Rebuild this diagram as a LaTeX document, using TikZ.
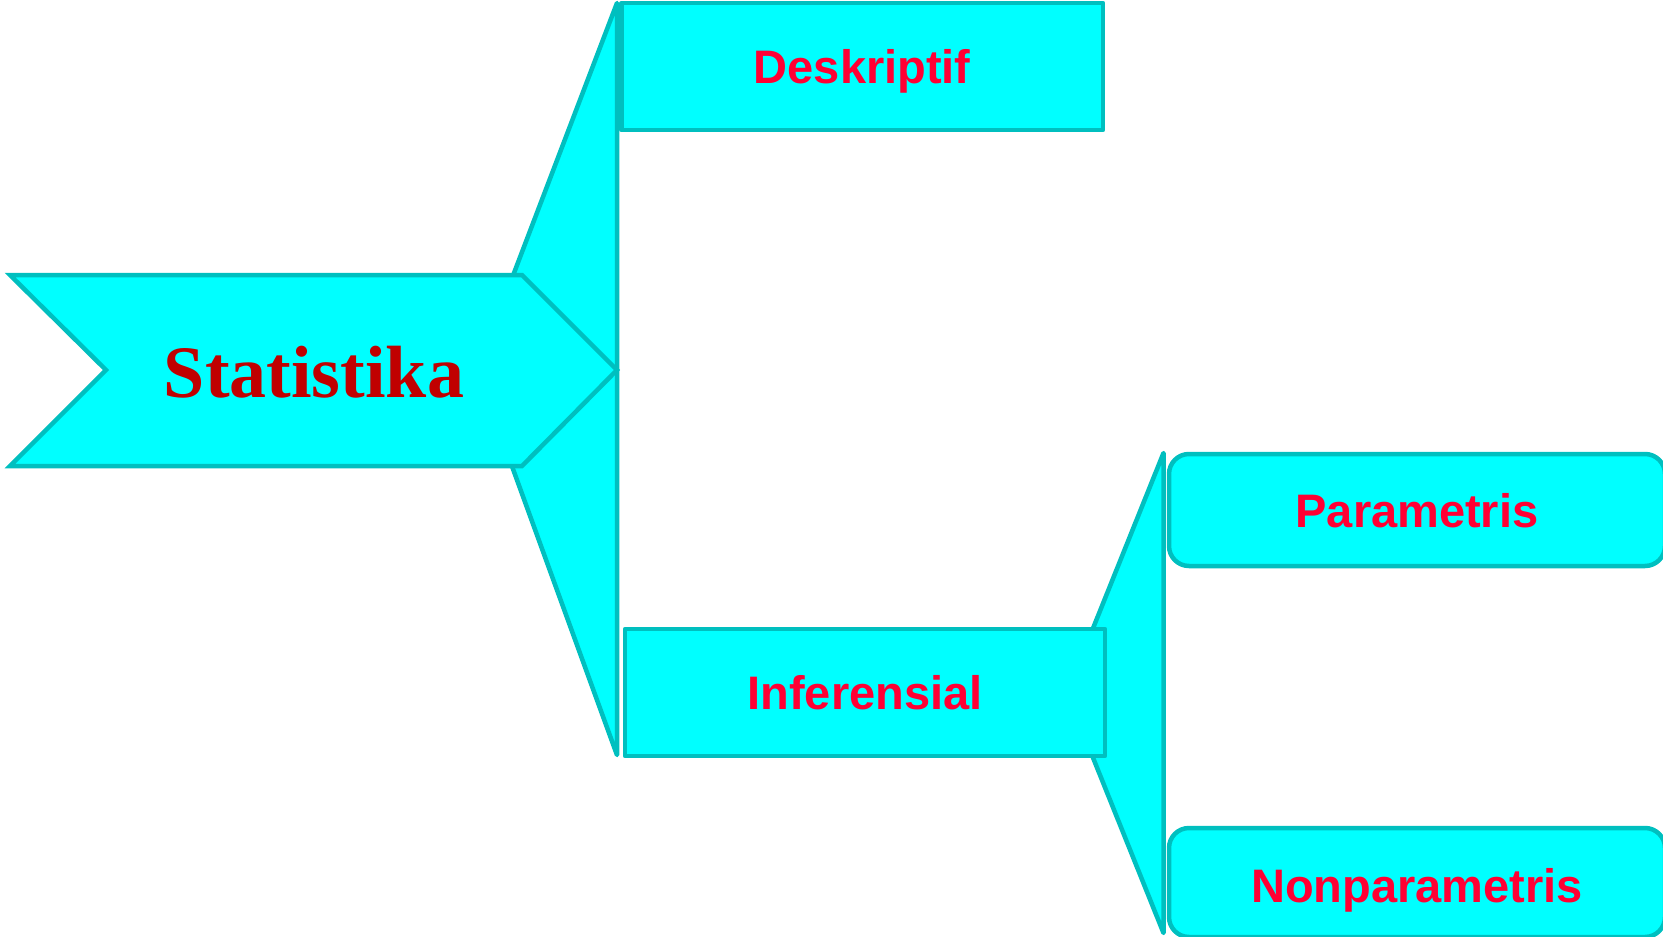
\documentclass[tikz,border=0pt]{standalone}
\usepackage{fontspec}
\setmainfont{Liberation Serif}
\newfontfamily\arialfont{Liberation Sans}
\definecolor{edgecol}{HTML}{00BFBF}
\definecolor{fillcol}{HTML}{00FFFF}
\definecolor{lblcol}{HTML}{FF0033}
\definecolor{titlecol}{HTML}{C00000}
\begin{document}
\begin{tikzpicture}[x=1pt,y=-1pt,
  shapestyle/.style={draw=edgecol, fill=fillcol, line width=4.5pt},
  fanstyle/.style={shapestyle, line join=round},
  chevstyle/.style={shapestyle, line join=miter},
  boxstyle/.style={shapestyle, rectangle, inner sep=0pt, line join=round,
    font=\arialfont\bfseries\fontsize{47}{50}\selectfont, text=lblcol,
    text height=34pt, text depth=0pt},
  rboxstyle/.style={boxstyle, rounded corners=20pt},
  titlestyle/.style={inner sep=0pt, text=titlecol,
    font=\bfseries\fontsize{74}{80}\selectfont, text height=50pt, text depth=0pt}
]
\useasboundingbox (0,0) rectangle (1663,937);
\clip (0,0) rectangle (1663,937);
% upper fan
\coordinate (f1t) at (617,3);
\coordinate (f1l) at (477,370);
\coordinate (f1b) at (617,755);
\path[fanstyle] (f1t) -- (f1l) -- (f1b) -- cycle;
% lower fan
\coordinate (f2t) at (1163.5,453);
\coordinate (f2l) at (1067,693);
\coordinate (f2b) at (1163.5,933);
\path[fanstyle] (f2t) -- (f2l) -- (f2b) -- cycle;
% chevron
\path[chevstyle] (10,275) -- (522,275) -- (617,370) -- (522,466) -- (10,466) -- (106,370) -- cycle;
\node[titlestyle] (stat) at (314,372) {Statistika};
% boxes
\node[boxstyle, minimum width=481.5pt, minimum height=127pt] (desk) at (862.25,66.5) {Deskriptif};
\node[boxstyle, minimum width=480pt, minimum height=127pt] (infer) at (865,692.5) {Inferensial};
\node[rboxstyle, minimum width=496pt, minimum height=112pt] (param) at (1417,510) {Parametris};
\node[rboxstyle, minimum width=496pt, minimum height=109pt, text height=39pt] (nonparam) at (1417,882.5) {Nonparametris};
\end{tikzpicture}
\end{document}
